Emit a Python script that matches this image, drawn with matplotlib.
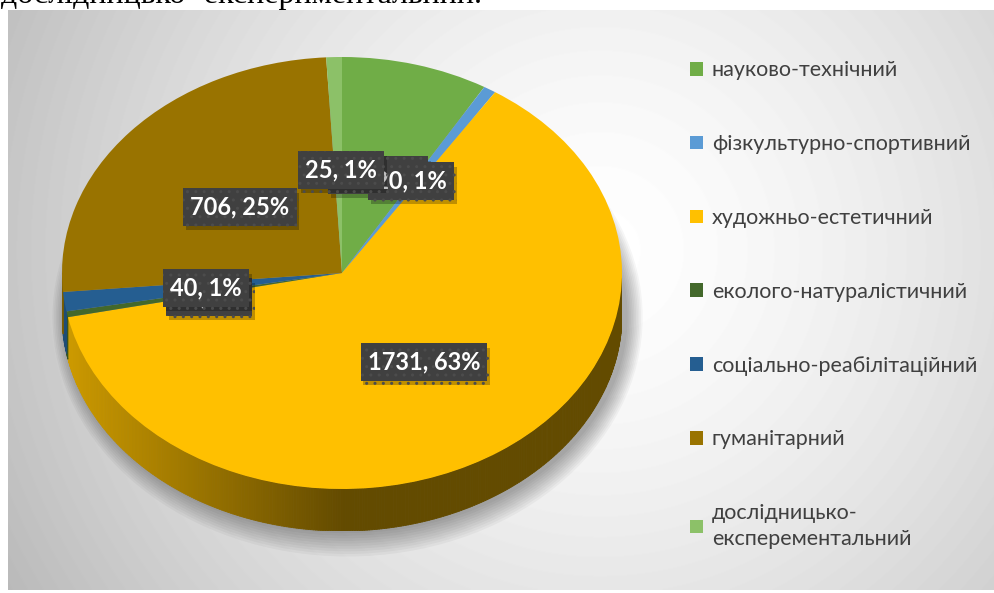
import numpy as np
import matplotlib.pyplot as plt
import matplotlib.colors as mcolors
import matplotlib.patheffects as pe
from matplotlib.collections import PolyCollection
from matplotlib.patches import Ellipse

# дані
categories = ["науково-технічний", "фізкультурно-спортивний", "художньо-естетичний",
              "еколого-натуралістичний", "соціально-реабілітаційний", "гуманітарний",
              "дослідницько-\nексперементальний"]
values = [235, 20, 1731, 12, 40, 706, 25]
colors = ["#70AD47", "#5B9BD5", "#FFC000", "#43682B", "#255E91", "#997300", "#8CC168"]

W, H = 995, 593
fig = plt.figure(figsize=(W / 100, H / 100), dpi=100)

# фон діаграми (радіальний градієнт)
bg = fig.add_axes([0, 0, 1, 1])
bg.set_xlim(0, W)
bg.set_ylim(H, 0)
bg.axis("off")
yy, xx = np.mgrid[10:590, 8:995]
dist = np.hypot(xx - 600, yy - 250)
shade = np.clip(255 - 63 * (dist / 640) ** 1.5, 0, 255)
bg.imshow(shade, cmap="gray", vmin=0, vmax=255, extent=[8, 995, 590, 10], aspect="auto", zorder=0)

fig.text(482 / W, 1 - 3 / H, "дослідницько- експериментальний.", ha="right", va="baseline",
         family="Liberation Serif", fontsize=23, color="black")

# "3D" кругова діаграма
cx, cy, rx, ry, depth = 342, 273, 280, 216, 42
d = depth / ry
ax = fig.add_axes([(cx - rx) / W, (H - (cy + ry + depth)) / H, 2 * rx / W, (2 * ry + depth) / H])
ax.patch.set_alpha(0)
wedges, _ = ax.pie(values, colors=colors, startangle=90, counterclock=False,
                   wedgeprops=dict(linewidth=0))
for w in wedges:
    w.set_zorder(3)
ax.set_aspect("auto")
ax.set_xlim(-1, 1)
ax.set_ylim(-1 - d, 1)

# тінь
for k in range(10):
    e = Ellipse((0.02, -d - 0.01), 2 * (1 + 0.006 * k), 2 * (1 + 0.012 * k), color="black",
                alpha=0.035, lw=0, zorder=1, clip_on=False)
    ax.add_patch(e)

# бічна стінка
total = sum(values)
edges = np.concatenate([[0], np.cumsum(values)]) / total * 360
quads, qcol = [], []
for i, c in enumerate(colors):
    a, b = max(edges[i], 90), min(edges[i + 1], 270)
    if a >= b:
        continue
    ts = np.radians(np.linspace(a, b, max(2, int((b - a) * 2))))
    base = np.array(mcolors.to_rgb(c))
    for t0, t1 in zip(ts[:-1], ts[1:]):
        x0, x1 = np.sin(t0), np.sin(t1)
        y0, y1 = np.cos(t0), np.cos(t1)
        quads.append([(x0, y0), (x1, y1), (x1, y1 - d), (x0, y0 - d)])
        f = 0.39 + 0.42 * np.clip(-(x0 + x1) / 2, 0, 1)
        qcol.append(base * f)
side = PolyCollection(quads, facecolors=qcol, edgecolors=qcol, linewidths=0.6, zorder=2)
ax.add_collection(side)

# підписи даних (окремий шар поверх діаграми)
ov = fig.add_axes([0, 0, 1, 1])
ov.set_xlim(0, W)
ov.set_ylim(H, 0)
ov.axis("off")
ov.patch.set_alpha(0)
label_pos = [(378, 175), (411, 181), (424, 362), (209, 297), (206, 288), (240, 207), (341, 170)]
draw_order = [0, 3, 1, 2, 4, 5, 6]
for z, i in enumerate(draw_order):
    pct = round(values[i] / total * 100)
    t = ov.text(label_pos[i][0], label_pos[i][1], f"{values[i]}, {pct}%", ha="center", va="center",
                color="white", fontsize=17, fontweight="bold", family="Lato", zorder=10 + z,
                bbox=dict(boxstyle="square,pad=0.3", fc="#404040", ec="#4c4c4c", lw=0, hatch=".."))
    t.get_bbox_patch().set_path_effects([pe.withSimplePatchShadow(offset=(2, -3), alpha=0.25,
                                                                   shadow_rgbFace="black")])

# легенда
leg = fig.legend(wedges, categories, loc="upper left", bbox_to_anchor=(671 / W, 1 - 41 / H),
                 frameon=False, labelspacing=2.5, handlelength=0.6, handleheight=0.6,
                 handletextpad=0.4, prop=dict(family="Lato", size=15.5))
for txt in leg.get_texts():
    txt.set_color("#404040")
leg.get_texts()[-1].set_linespacing(1.35)

plt.savefig("out.png", dpi=100)
